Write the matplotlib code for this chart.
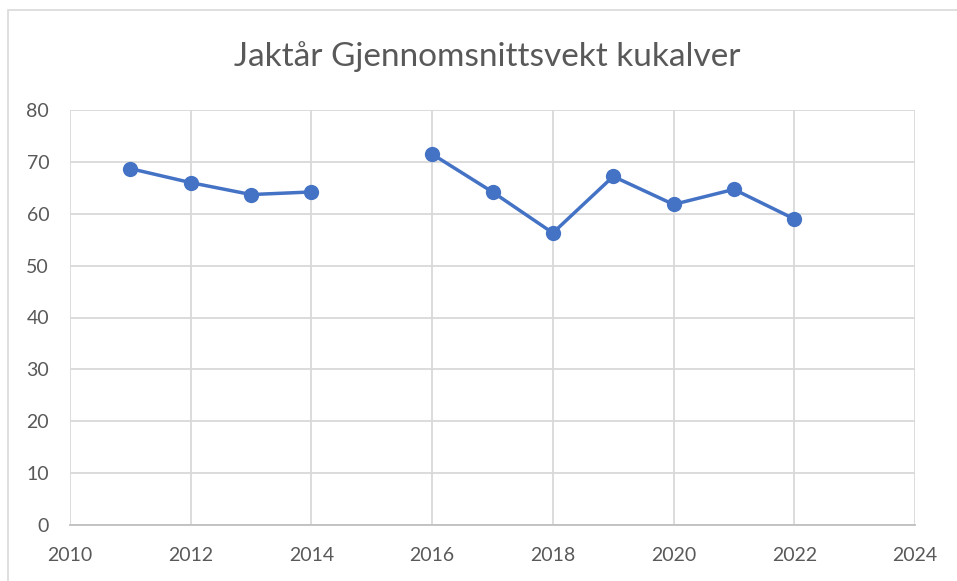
import numpy as np
import matplotlib.pyplot as plt
from matplotlib.patches import Rectangle

years = [2011, 2012, 2013, 2014, 2015, 2016, 2017, 2018, 2019, 2020, 2021, 2022]
weights = [68.7, 66.0, 63.7, 64.2, np.nan, 71.5, 64.2, 56.3, 67.2, 61.8, 64.7, 59.0]
title = 'Jaktår Gjennomsnittsvekt kukalver'

text_color = '#595959'
grid_color = '#D9D9D9'
line_color = '#4472C4'

plt.rcParams['font.family'] = ['Lato', 'DejaVu Sans']

fig = plt.figure(figsize=(9.57, 5.81), dpi=100)
fig.patches.append(Rectangle((8 / 957, -0.05), 1.0, 1 - 10 / 581 + 0.05,
                             transform=fig.transFigure, fill=False,
                             edgecolor='#D9D9D9', linewidth=1.2))

ax = fig.add_axes([70 / 957, 1 - 525 / 581, (915 - 70) / 957, (525 - 110) / 581])
ax.plot(years, weights, color=line_color, linewidth=2.5, marker='o',
        markersize=11, markeredgewidth=0)

ax.set_xlim(2010, 2024)
ax.set_ylim(0, 80)
ax.set_xticks(range(2010, 2025, 2))
ax.set_yticks(range(0, 81, 10))
ax.grid(True, color=grid_color, linewidth=1.3)
ax.set_axisbelow(True)
for side in ['top', 'right', 'left']:
    ax.spines[side].set_visible(False)
ax.spines['bottom'].set_color('#BFBFBF')
ax.spines['bottom'].set_linewidth(1.3)
ax.tick_params(length=0, labelsize=14, colors=text_color)
ax.tick_params(axis='x', pad=16)
ax.tick_params(axis='y', pad=15)

fig.text(487 / 957, 1 - 57 / 581, title, ha='center', va='center',
         fontsize=24, color=text_color)

fig.savefig('out.png')
